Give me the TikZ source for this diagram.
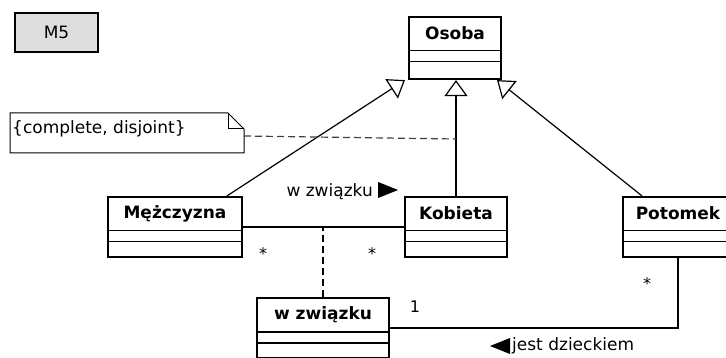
\documentclass[tikz,border=0pt]{standalone}
\usepackage{fontspec}
\setmainfont{DejaVu Sans}
\usetikzlibrary{arrows.meta,calc}
\newcommand\umlcls[6]{%
  \node[cls, minimum width=#4, minimum height=#5] (#1) at (#2,#3) {};
  \node[ttl] (#1t) at ([yshift=-17.5pt]#1.north) {#6};
  \draw[cline] ([yshift=-35pt]#1.north west) -- ([yshift=-35pt]#1.north east);
  \draw[cline] ([yshift=-46pt]#1.north west) -- ([yshift=-46pt]#1.north east);
}
\begin{document}
\begin{tikzpicture}[x=1pt,y=-1pt,
  cls/.style={draw, line width=2.2pt, inner sep=0pt, rectangle},
  cline/.style={line width=1.2pt},
  ttl/.style={font=\fontsize{17}{19}\selectfont\bfseries, inner sep=0pt},
  lbl/.style={font=\fontsize{17}{19}\selectfont, inner sep=0pt},
  mult/.style={font=\fontsize{16}{18}\selectfont, inner sep=0pt},
  gen/.style={line width=1.2pt, -{Triangle[open, length=16pt, width=23pt, fill=white]}},
  assoc/.style={line width=1.2pt},
  dsh/.style={line width=1.2pt, dash pattern=on 7pt off 4pt}]
\useasboundingbox (0,0) rectangle (726,358);
% M5 box
\node[draw, fill=black!13, line width=1.2pt, minimum width=83, minimum height=39, inner sep=0pt,
  font=\fontsize{17}{19}\selectfont] (m5) at (56.5,32.5) {M5};
% classes
\umlcls{osoba}{455}{48}{92}{62}{Osoba}
\umlcls{men}{175}{227}{134}{60}{Mężczyzna}
\umlcls{kob}{456}{227}{102}{60}{Kobieta}
\umlcls{pot}{678}{227}{110}{60}{Potomek}
\umlcls{wz}{323}{328}{132}{60}{w związku}
% note
\node[inner sep=0pt, outer sep=0pt, minimum width=234, minimum height=40, anchor=north west] (note) at (10,113) {};
\draw[line width=1pt] (note.north west) -- ([xshift=-16pt]note.north east)
  -- ([yshift=-16pt]note.north east) -- (note.south east) -- (note.south west) -- cycle;
\draw[line width=1pt] ([xshift=-16pt]note.north east) |- ([yshift=-16pt]note.north east);
\node[lbl, anchor=west] (notet) at ([xshift=2pt, yshift=-16pt]note.north west) {\{complete, disjoint\}};
% generalizations
\draw[gen] ([xshift=52pt]men.north) -- ([xshift=-50pt]osoba.south);
\draw[gen] (kob.north) -- (kob.north |- osoba.south);
\draw[gen] ([xshift=-36pt]pot.north) -- ([xshift=42pt]osoba.south);
% constraint dashed line
\coordinate (gk) at (456,139);
\draw[dsh, draw=black!75] ([yshift=-23pt]note.north east) -- (gk);
% associations
\draw[assoc] (men.east) -- (kob.west);
\coordinate (am) at (323,227);
\draw[dsh] (wz.north) -- (am);
\draw[assoc] (wz.east) -| (pot.south);
% labels
\node[lbl, anchor=east] (lab1) at (373,192) {w związku};
\fill ([xshift=5pt, yshift=-6pt]lab1.east) -- ++(0,-16) -- ++(20,8) -- cycle;
\node[lbl, anchor=west] (lab2) at (512,346) {jest dzieckiem};
\fill ([xshift=-2pt, yshift=-8pt]lab2.west) -- ++(0,-16) -- ++(-20,8) -- cycle;
\node[mult] (m1) at (263,254) {*};
\node[mult] (m2) at (372,254) {*};
\node[mult] (m3) at (647,284) {*};
\node[mult] (m4) at (415,307) {1};
\end{tikzpicture}
\end{document}
